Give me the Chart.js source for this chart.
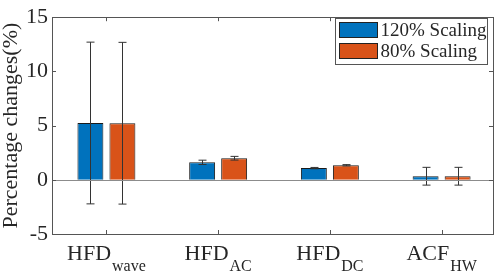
<!DOCTYPE html>
<html>
<head>
<meta charset="utf-8">
<script src="https://cdn.jsdelivr.net/npm/chart.js"></script>
<style>
  html, body { margin: 0; padding: 0; background: #fff; }
  #wrap { width: 498px; height: 272px; }
</style>
</head>
<body>
<div id="wrap"><canvas id="c"></canvas></div>
<script>
// chart data
const labelMain = ['HFD', 'HFD', 'HFD', 'ACF'];
const labelSub = ['wave', 'AC', 'DC', 'HW'];
const seriesNames = ['120% Scaling', '80% Scaling'];
const scaling120 = [5.24, 1.61, 1.08, 0.33];
const scaling80 = [5.22, 1.99, 1.34, 0.33];
const err120 = [7.46, 0.20, 0.06, 0.82];
const err80 = [7.46, 0.17, 0.06, 0.82];
const yTicks = [-5, 0, 5, 10, 15];

const SERIF = '"Liberation Serif", "Times New Roman", serif';
const AXIS = '#555555';
const TEXT = '#262626';

const toPoints = arr => arr.map((v, i) => ({ x: i + 1, y: v }));

// error bars, axis box, inward ticks, x labels with subscripts, legend
const matlabLook = {
  id: 'matlabLook',
  afterDatasetsDraw(chart) {
    const ctx = chart.ctx;
    const y = chart.scales.y;
    const errs = [err120, err80];
    ctx.save();
    ctx.strokeStyle = '#333333';
    ctx.lineWidth = 1;
    chart.data.datasets.forEach((ds, di) => {
      const meta = chart.getDatasetMeta(di);
      meta.data.forEach((bar, i) => {
        const v = ds.data[i].y;
        const e = errs[di][i];
        const x = Math.round(bar.x) + 0.5;
        const yt = y.getPixelForValue(v + e);
        const yb = y.getPixelForValue(v - e);
        ctx.beginPath();
        ctx.moveTo(x, yt); ctx.lineTo(x, yb);
        ctx.moveTo(x - 4, yt); ctx.lineTo(x + 4, yt);
        ctx.moveTo(x - 4, yb); ctx.lineTo(x + 4, yb);
        ctx.stroke();
      });
    });
    ctx.restore();
  },
  afterDraw(chart) {
    const ctx = chart.ctx;
    const a = chart.chartArea;
    const xs = chart.scales.x, ys = chart.scales.y;
    ctx.save();
    // zero baseline
    const y0 = Math.round(ys.getPixelForValue(0)) + 0.5;
    ctx.strokeStyle = '#8c8c8c';
    ctx.lineWidth = 1;
    ctx.beginPath(); ctx.moveTo(a.left, y0); ctx.lineTo(a.right, y0); ctx.stroke();
    // box
    ctx.strokeStyle = AXIS;
    ctx.strokeRect(Math.round(a.left) + 0.5, Math.round(a.top) + 0.5,
      Math.round(a.right - a.left), Math.round(a.bottom - a.top));
    // ticks pointing inward
    ctx.beginPath();
    labelMain.forEach((m, i) => {
      const px = Math.round(xs.getPixelForValue(i + 1)) + 0.5;
      ctx.moveTo(px, a.top); ctx.lineTo(px, a.top + 4);
      ctx.moveTo(px, a.bottom); ctx.lineTo(px, a.bottom - 4);
    });
    yTicks.forEach(t => {
      const py = Math.round(ys.getPixelForValue(t)) + 0.5;
      ctx.moveTo(a.left, py); ctx.lineTo(a.left + 4, py);
      ctx.moveTo(a.right, py); ctx.lineTo(a.right - 4, py);
    });
    ctx.stroke();
    // x labels with subscripts
    ctx.fillStyle = TEXT;
    ctx.textBaseline = 'alphabetic';
    ctx.textAlign = 'left';
    labelMain.forEach((m, i) => {
      const px = xs.getPixelForValue(i + 1);
      ctx.font = '22px ' + SERIF;
      const wm = ctx.measureText(m).width;
      ctx.font = '16px ' + SERIF;
      const ws = ctx.measureText(labelSub[i]).width;
      const x0 = px - (wm + ws + 1) / 2;
      ctx.font = '22px ' + SERIF;
      ctx.fillText(m, x0, 260);
      ctx.font = '16px ' + SERIF;
      ctx.fillText(labelSub[i], x0 + wm + 1, 271);
    });
    // legend
    const lx = 335.5, ly = 18.5, lw = 152, lh = 46;
    ctx.fillStyle = '#ffffff';
    ctx.fillRect(lx, ly, lw, lh);
    ctx.strokeStyle = AXIS;
    ctx.strokeRect(lx, ly, lw, lh);
    ctx.font = '19px ' + SERIF;
    ctx.textBaseline = 'middle';
    chart.data.datasets.forEach((ds, di) => {
      const ry = ly + 4 + di * 21;
      ctx.fillStyle = ds.backgroundColor;
      ctx.fillRect(lx + 4, ry, 38, 15);
      ctx.strokeStyle = '#222222';
      ctx.strokeRect(lx + 4, ry, 38, 15);
      ctx.fillStyle = TEXT;
      ctx.fillText(ds.label, lx + 45, ry + 8.5);
    });
    ctx.restore();
  }
};

new Chart(document.getElementById('c'), {
  type: 'bar',
  data: {
    datasets: [
      { label: seriesNames[0], data: toPoints(scaling120), backgroundColor: '#0072BD', borderColor: '#1a1a1a', borderWidth: 1 },
      { label: seriesNames[1], data: toPoints(scaling80), backgroundColor: '#D95319', borderColor: '#1a1a1a', borderWidth: 1 }
    ]
  },
  options: {
    responsive: true,
    maintainAspectRatio: false,
    animation: false,
    categoryPercentage: 0.573,
    barPercentage: 0.81,
    layout: { padding: { top: 9, right: 5, left: 0, bottom: 0 } },
    plugins: { legend: { display: false }, tooltip: { enabled: false } },
    scales: {
      x: {
        type: 'linear',
        min: 0.513,
        max: 4.46,
        offset: false,
        afterBuildTicks: s => { s.ticks = labelMain.map((m, i) => ({ value: i + 1 })); },
        afterFit: s => { s.height = 38; },
        grid: { display: false },
        border: { display: false },
        ticks: { display: false }
      },
      y: {
        min: -5,
        max: 15,
        afterBuildTicks: s => { s.ticks = yTicks.map(v => ({ value: v })); },
        afterFit: s => { s.width = 52; },
        grid: { display: false, drawTicks: false },
        border: { display: false },
        ticks: { color: TEXT, padding: 4, font: { family: SERIF, size: 22 } },
        title: {
          display: true,
          text: 'Percentage changes(%)',
          color: TEXT,
          padding: 0,
          font: { family: SERIF, size: 22, lineHeight: 1 }
        }
      }
    }
  },
  plugins: [matlabLook]
});
</script>
</body>
</html>
